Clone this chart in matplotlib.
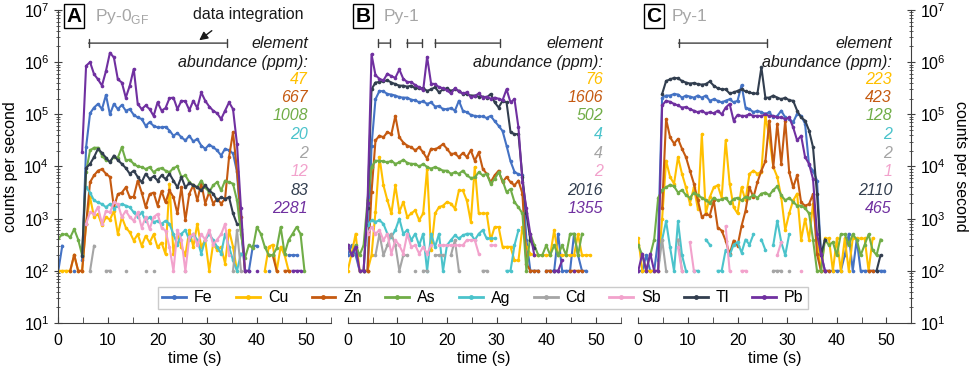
import numpy as np
import matplotlib
matplotlib.use("Agg")
import matplotlib.pyplot as plt
from matplotlib.lines import Line2D
from matplotlib.ticker import FixedLocator, NullFormatter

plt.rcParams["font.family"] = ["Liberation Sans", "DejaVu Sans"]

nan = float("nan")

time_s = [0.0, 0.8, 1.6, 2.4, 3.2, 4.0, 4.8, 5.6, 6.4, 7.2,
          8.0, 8.8, 9.6, 10.4, 11.2, 12.0, 12.8, 13.6, 14.4, 15.2,
          16.0, 16.8, 17.6, 18.4, 19.2, 20.0, 20.8, 21.6, 22.4, 23.2,
          24.0, 24.8, 25.6, 26.4, 27.2, 28.0, 28.8, 29.6, 30.4, 31.2,
          32.0, 32.8, 33.6, 34.4, 35.2, 36.0, 36.8, 37.6, 38.4, 39.2,
          40.0, 40.8, 41.6, 42.4, 43.2, 44.0, 44.8, 45.6, 46.4, 47.2,
          48.0, 48.8, 49.6]

# signals as log10(counts per second), nan = nothing plotted
# --- A: Py-0GF ---
a_fe = [2.0, 2.48, nan, nan, 2.0, nan, 2.2, 4.37, 5.02, 5.13,
        5.2, 5.1, 5.37, 5.0, 5.2, 5.1, 5.18, 5.07, 5.1, 4.99,
        4.94, 4.91, 4.78, 4.85, 4.78, 4.75, 4.75, 4.76, 4.69, 4.59,
        4.64, 4.56, 4.5, 4.59, 4.48, 4.53, 4.4, 4.34, 4.42, 4.37,
        4.31, 4.21, 4.34, 4.31, 4.25, 3.9, 2.8, 2.0, 2.0, 2.48,
        2.48, nan, nan, 2.0, nan, nan, nan, nan, 2.3, 2.3,
        2.3, nan, nan]
a_cu = [2.0, 2.0, 2.0, 2.0, 2.3, 2.0, 2.0, 2.9, 3.41, 3.03,
        3.09, 2.87, 3.03, 2.98, 3.15, 2.7, 3.03, 2.83, 2.74, 2.58,
        2.7, 2.48, 2.67, 2.54, 2.7, 2.45, 2.54, 2.32, 3.67, 2.33,
        2.71, 2.46, 2.3, 2.78, 2.46, 2.9, 2.46, 2.59, 2.0, 2.52,
        2.4, 2.46, 2.14, 2.78, 2.46, 2.0, nan, nan, nan, nan,
        nan, nan, 2.0, 2.46, 2.5, 2.0, 2.46, 2.3, 2.0, nan,
        nan, nan, nan]
a_zn = [nan, nan, nan, 2.0, 2.31, 2.0, 2.0, 2.9, 3.7, 3.83,
        3.92, 3.95, 3.86, 3.8, 3.22, 3.47, 3.5, 3.6, 3.41, 3.42,
        3.73, 3.5, 3.22, 3.47, 3.5, 3.25, 3.53, 3.31, 3.54, 3.41,
        3.1, 3.6, 2.97, 3.48, 3.64, 3.35, 3.68, 3.29, 3.51, 3.29,
        3.38, 3.29, 3.38, 4.18, 4.66, 3.92, 3.03, 2.0, nan, nan,
        nan, nan, nan, 2.3, 2.3, 2.0, nan, 2.0, 2.0, nan,
        nan, nan, nan]
a_as = [2.62, 2.7, 2.7, 2.64, 2.8, 2.6, 2.3, 3.9, 4.31, 4.36,
        4.36, 4.21, 4.12, 4.1, 4.18, 4.17, 4.37, 4.12, 4.13, 4.05,
        4.0, 3.99, 3.95, 3.99, 3.89, 3.95, 3.97, 3.92, 3.89, 3.97,
        4.0, 3.8, 3.83, 3.7, 3.64, 3.6, 3.73, 3.6, 3.51, 3.64,
        3.7, 3.54, 3.73, 3.7, 3.67, 3.35, 2.71, 2.24, 2.5, 2.43,
        2.84, 2.71, 2.46, 2.3, 2.3, 2.43, 2.84, 2.33, 2.59, 2.71,
        2.84, 2.71, 2.0]
a_ag = [nan, nan, nan, nan, nan, nan, nan, 3.6, 3.5, 3.35,
        3.31, 3.28, 3.22, 3.28, 3.19, 3.25, 3.28, 3.25, 3.22, 3.12,
        3.03, 3.12, 2.96, 3.03, 2.93, 2.96, 2.9, 2.96, 2.9, 2.7,
        2.5, 2.71, 2.78, 2.59, 2.71, 2.59, 2.33, 2.59, 2.71, 2.59,
        2.46, 2.33, 2.71, 2.46, 2.2, 2.0, 2.33, nan, nan, nan,
        nan, nan, nan, nan, nan, nan, nan, nan, nan, nan,
        nan, nan, nan]
a_cd = [nan, nan, nan, nan, nan, nan, nan, nan, 2.0, 2.48,
        nan, nan, 2.0, 2.0, nan, nan, nan, 2.0, nan, nan,
        nan, nan, 2.0, nan, 2.0, nan, nan, nan, nan, nan,
        nan, nan, 2.0, nan, nan, nan, nan, nan, nan, nan,
        nan, nan, nan, nan, 2.0, 2.78, 2.0, nan, nan, nan,
        nan, nan, nan, nan, nan, nan, nan, nan, nan, nan,
        nan, nan, nan]
a_sb = [nan, nan, nan, nan, nan, nan, nan, 2.9, 3.12, 3.09,
        3.22, 2.9, 3.15, 3.12, 3.31, 3.28, 3.03, 3.15, 3.03, 2.96,
        3.12, 2.83, 3.03, 2.8, 3.03, 3.09, 2.83, 2.77, 2.45, 2.0,
        2.78, 2.6, 2.0, 2.65, 2.7, 2.5, 2.7, 2.6, 2.78, 2.5,
        2.6, 2.7, 2.9, 2.3, nan, nan, nan, nan, nan, nan,
        nan, nan, nan, nan, nan, nan, nan, nan, nan, nan,
        nan, nan, nan]
a_tl = [nan, nan, nan, nan, nan, nan, 2.29, 3.97, 4.05, 4.18,
        4.34, 4.26, 4.17, 4.08, 4.21, 4.12, 4.05, 3.97, 3.86, 3.92,
        3.8, 3.7, 3.86, 3.76, 3.81, 3.73, 3.83, 3.76, 3.86, 3.73,
        3.6, 3.8, 3.6, 3.68, 3.64, 3.6, 3.54, 3.64, 3.54, 3.48,
        3.35, 3.41, 3.38, 3.41, 3.1, 2.9, nan, nan, nan, nan,
        nan, nan, nan, nan, nan, nan, nan, nan, nan, nan,
        nan, nan, nan]
a_pb = [nan, nan, nan, nan, nan, nan, 4.27, 5.93, 6.0, 5.77,
        5.67, 5.55, 5.83, 6.18, 6.09, 5.67, 5.61, 5.32, 5.55, 5.87,
        5.2, 5.1, 5.17, 5.1, 4.97, 5.23, 5.07, 5.12, 5.31, 5.32,
        5.1, 5.26, 5.25, 5.08, 5.26, 5.12, 5.42, 5.26, 5.15, 5.07,
        5.02, 4.91, 5.07, 5.23, 5.1, 4.43, 3.2, 2.0, 2.0, nan,
        2.0, nan, nan, nan, nan, nan, nan, nan, nan, 2.0,
        2.0, 2.0, nan]

# --- B: Py-1 ---
b_fe = [2.3, 2.49, 2.3, 2.0, 2.0, 2.0, 4.4, 5.29, 5.45, 5.44,
        5.39, 5.38, 5.36, 5.33, 5.32, 5.32, 5.28, 5.27, 5.23, 5.25,
        5.2, 5.23, 5.15, 5.16, 5.1, 5.1, 5.12, 5.07, 5.26, 5.07,
        5.04, 4.99, 4.97, 4.96, 4.96, 4.93, 4.97, 4.87, 4.78, 4.68,
        4.4, 4.1, 3.9, 3.85, 3.83, 2.6, 2.0, 2.0, 2.0, nan,
        2.0, 2.0, 2.0, 2.71, 2.0, 2.0, 2.0, 2.71, 2.3, 2.0,
        2.0, nan, nan]
b_cu = [2.0, 2.33, 2.71, 2.0, 2.0, 2.0, 2.3, 3.13, 4.18, 3.64,
        3.35, 3.1, 3.64, 3.13, 3.32, 3.03, 3.1, 3.16, 2.97, 3.1,
        3.96, 2.39, 3.1, 3.22, 3.25, 3.32, 3.29, 3.19, 3.54, 3.54,
        3.35, 2.94, 3.99, 3.1, 3.1, 3.1, 2.59, 2.84, 2.84, 2.46,
        2.46, 2.46, 2.2, 2.2, 2.84, 2.46, 2.33, 2.3, 2.3, 2.3,
        2.3, 2.3, 2.78, 2.3, 2.3, 2.3, 2.3, 2.3, 2.7, 2.3,
        2.3, 2.3, nan]
b_zn = [nan, nan, nan, nan, nan, 2.0, 3.51, 4.5, 4.59, 4.56,
        4.66, 4.62, 4.97, 4.56, 4.46, 4.4, 4.37, 4.31, 4.37, 4.27,
        4.15, 4.34, 4.33, 4.37, 4.43, 4.34, 4.24, 4.25, 4.18, 4.26,
        4.18, 4.31, 4.11, 4.27, 3.96, 3.86, 3.7, 3.83, 3.92, 3.7,
        3.8, 3.7, 3.64, 3.73, 3.48, 2.14, 2.0, 2.0, 2.0, nan,
        2.0, 2.0, nan, nan, nan, nan, 2.0, 2.0, 2.0, 2.0,
        nan, nan, nan]
b_as = [2.49, 2.3, 2.49, 2.3, 2.49, 3.35, 3.99, 4.11, 4.11, 4.1,
        4.08, 4.11, 4.05, 4.08, 4.13, 4.07, 4.05, 4.05, 4.0, 4.05,
        3.99, 3.96, 3.99, 3.96, 3.92, 3.92, 3.86, 3.89, 3.86, 3.92,
        3.83, 3.78, 3.79, 3.89, 3.83, 3.86, 3.67, 3.76, 3.89, 3.73,
        3.51, 3.57, 3.32, 3.22, 3.1, 2.0, 2.71, 2.49, 2.3, 2.3,
        2.49, 2.3, 2.49, 2.3, 2.49, 2.3, 2.71, 2.71, 2.3, 2.71,
        nan, nan, nan]
b_ag = [nan, nan, nan, nan, nan, 2.87, 2.97, 2.94, 2.97, 2.9,
        2.71, 2.65, 2.78, 3.0, 2.71, 2.78, 2.59, 2.71, 2.49, 2.71,
        2.0, 2.71, 2.46, 2.71, 2.0, 2.49, 2.59, 2.68, 2.62, 2.68,
        2.71, 2.71, 2.59, 2.71, 2.78, 2.62, 2.62, 2.62, nan, nan,
        2.0, 2.0, 2.49, 2.78, nan, nan, nan, nan, nan, nan,
        nan, nan, nan, nan, nan, nan, nan, nan, nan, nan,
        nan, nan, nan]
b_cd = [nan, nan, nan, nan, nan, nan, nan, 2.3, 2.71, 2.3,
        2.49, 2.71, 2.49, 2.0, 2.3, 2.3, nan, 2.0, nan, 2.0,
        2.0, nan, 2.3, 2.3, 2.3, nan, 2.3, 2.59, 2.0, nan,
        nan, nan, nan, nan, 2.0, 2.0, nan, nan, nan, nan,
        nan, nan, nan, nan, nan, nan, nan, nan, nan, nan,
        nan, nan, nan, nan, nan, nan, nan, nan, nan, nan,
        nan, nan, nan]
b_sb = [nan, nan, nan, nan, nan, 2.71, 2.84, 2.71, 2.78, 2.59,
        2.71, 2.33, 2.59, 2.49, 2.33, 2.71, 2.46, 2.49, 2.33, 2.46,
        2.33, 2.49, nan, 2.49, 2.49, 2.49, 2.49, 2.49, 2.49, 2.49,
        2.59, 2.59, 2.59, 2.33, nan, nan, 2.49, 2.49, nan, nan,
        nan, nan, nan, nan, nan, nan, nan, nan, nan, nan,
        nan, nan, nan, nan, nan, nan, nan, nan, nan, nan,
        nan, nan, nan]
b_tl = [nan, nan, nan, nan, 2.0, 3.2, 5.48, 5.61, 5.62, 5.64,
        5.65, 5.61, 5.58, 5.55, 5.55, 5.53, 5.55, 5.5, 5.5, 5.5,
        5.45, 5.48, 5.52, 5.42, 5.48, 5.5, 5.45, 5.48, 5.45, 5.39,
        5.39, 5.36, 5.36, 5.34, 5.34, 5.32, 5.39, 5.23, 5.13, 5.26,
        5.23, 4.66, 4.62, 4.62, 3.8, 3.1, 2.59, 2.43, nan, nan,
        nan, nan, 2.0, 2.0, nan, nan, nan, nan, nan, nan,
        nan, nan, nan]
b_pb = [2.49, 2.3, 2.46, 2.0, 2.0, 3.3, 6.15, 5.75, 5.68, 5.65,
        5.78, 5.73, 5.7, 5.86, 5.68, 5.62, 5.62, 5.56, 5.52, 5.46,
        6.1, 5.59, 5.58, 5.52, 5.5, 5.46, 5.4, 5.5, 5.44, 5.4,
        5.42, 5.33, 5.35, 5.4, 5.32, 5.34, 5.3, 5.32, 5.3, 5.27,
        5.48, 5.23, 5.29, 4.75, 3.7, 3.2, 2.7, 2.3, nan, nan,
        nan, nan, 2.0, 2.0, 2.2, nan, nan, 2.0, nan, nan,
        nan, nan, nan]

# --- C: Py-1 ---
c_fe = [2.0, 2.0, 2.3, 2.0, 2.0, 2.6, 5.32, 5.36, 5.36, 5.39,
        5.38, 5.32, 5.36, 5.34, 5.32, 5.36, 5.32, 5.36, 5.26, 5.29,
        5.26, 5.23, 5.26, 5.29, 5.23, 5.26, 5.56, 5.13, 5.1, 5.04,
        5.07, 5.04, 5.01, 5.04, 4.94, 4.97, 5.07, 4.94, 4.91, 4.85,
        5.01, 4.97, 4.82, 4.02, 3.92, 3.73, 2.33, 2.0, 2.0, 2.0,
        2.0, 2.0, 2.3, 2.71, 2.0, 2.6, 2.0, 2.0, 2.0, 2.0,
        2.0, 2.0, 2.0]
c_cu = [2.62, 2.0, 2.0, 2.0, 2.0, 2.0, 3.0, 4.11, 3.8, 3.67,
        4.18, 3.86, 3.6, 3.29, 3.6, 3.19, 4.62, 3.1, 3.41, 3.6,
        3.64, 3.4, 4.5, 3.67, 3.22, 3.1, 3.6, 3.35, 3.86, 3.92,
        3.86, 3.9, 4.97, 4.56, 3.99, 3.8, 3.41, 2.78, 3.1, 3.35,
        3.48, 2.59, 3.0, 2.6, 3.29, 2.59, 2.0, 2.62, 2.62, 2.0,
        2.62, 2.0, 2.62, 2.0, 2.62, 2.62, 2.62, 2.62, 2.0, 2.62,
        nan, nan, nan]
c_zn = [nan, nan, nan, nan, nan, nan, 3.2, 4.91, 4.56, 4.44,
        4.53, 4.34, 4.18, 3.92, 3.67, 3.35, 3.03, 3.09, 3.06, 3.35,
        2.83, 2.77, 2.58, 2.32, 2.58, 2.48, 2.86, 3.15, 3.6, 3.41,
        3.7, 3.92, 4.1, 4.88, 3.99, 4.82, 4.05, 4.88, 3.89, 3.6,
        3.83, 3.31, 3.25, 3.28, 3.47, 2.32, 2.0, 2.0, 2.0, nan,
        nan, nan, nan, nan, nan, nan, nan, nan, 2.0, 2.0,
        nan, nan, nan]
c_as = [2.49, 2.3, 2.0, 2.3, 2.6, 3.4, 3.55, 3.6, 3.65, 3.62,
        3.5, 3.55, 3.45, 3.4, 3.5, 3.45, 3.4, 3.35, 3.3, 3.4,
        3.35, 3.37, 3.4, 3.3, 3.38, 3.4, 3.35, 3.42, 3.4, 3.45,
        3.4, 3.48, 3.5, 3.45, 3.55, 3.62, 3.45, 3.35, 3.4, 3.32,
        3.25, 3.25, 3.2, 3.1, 2.6, 2.0, 2.0, 2.6, 2.49, 2.55,
        2.3, 2.7, 2.7, 2.5, 2.7, 2.6, 2.3, 2.5, 2.7, 2.4,
        2.3, 2.6, nan]
c_ag = [nan, nan, nan, nan, nan, 2.2, 2.6, 2.95, 2.45, 2.0,
        2.95, 2.3, 2.0, nan, 2.0, 2.0, nan, 2.6, 2.5, nan,
        2.0, 2.0, 2.4, 2.3, 2.5, 2.55, 2.35, 2.6, 2.5, 2.7,
        nan, 2.6, 2.4, nan, 2.5, 2.96, 2.55, 2.3, 2.7, nan,
        nan, nan, nan, nan, nan, nan, nan, nan, nan, nan,
        nan, nan, nan, nan, nan, nan, nan, nan, nan, nan,
        nan, nan, nan]
c_cd = [nan, nan, nan, nan, nan, 2.0, 2.6, 2.0, nan, nan,
        2.6, 2.0, nan, nan, nan, nan, nan, nan, nan, nan,
        nan, nan, nan, nan, nan, nan, nan, nan, nan, nan,
        nan, nan, nan, nan, 2.0, 2.0, 2.0, nan, 2.0, nan,
        nan, nan, nan, nan, nan, nan, nan, nan, nan, nan,
        nan, nan, nan, nan, nan, nan, nan, nan, nan, nan,
        nan, nan, nan]
c_sb = [nan, nan, nan, nan, nan, nan, nan, nan, nan, nan,
        2.45, 2.0, nan, 2.55, 2.0, nan, nan, nan, nan, nan,
        nan, nan, 2.85, 2.0, nan, nan, 2.0, 2.0, nan, nan,
        nan, nan, nan, nan, nan, 2.3, 2.55, nan, nan, nan,
        nan, 2.0, nan, nan, nan, nan, nan, nan, nan, nan,
        nan, nan, nan, nan, nan, nan, nan, nan, nan, nan,
        nan, nan, nan]
c_tl = [nan, nan, nan, nan, nan, nan, 5.39, 5.64, 5.67, 5.7,
        5.69, 5.64, 5.61, 5.59, 5.6, 5.58, 5.57, 5.58, 5.63, 5.55,
        5.5, 5.48, 5.48, 5.4, 5.42, 5.45, 5.48, 5.44, 5.42, 5.4,
        5.4, 5.9, 5.32, 5.32, 5.36, 5.32, 5.29, 5.32, 5.27, 5.26,
        5.07, 4.94, 4.88, 4.69, 4.37, 3.48, 2.3, 2.6, nan, nan,
        nan, nan, nan, nan, nan, nan, nan, nan, nan, nan,
        2.0, 2.3, nan]
c_pb = [2.0, 2.33, 2.0, 2.33, 2.0, 2.0, 5.17, 5.26, 5.24, 5.2,
        5.17, 5.13, 5.14, 5.1, 5.07, 5.04, 5.07, 5.02, 5.04, 5.02,
        5.07, 5.0, 5.13, 5.2, 4.88, 4.99, 4.97, 4.97, 5.0, 4.97,
        4.97, 4.97, 5.0, 4.97, 4.97, 4.94, 4.94, 4.91, 4.94, 4.75,
        4.5, 4.59, 4.18, 4.05, 3.76, 2.71, 2.33, 2.0, nan, nan,
        nan, nan, nan, nan, nan, nan, nan, nan, nan, nan,
        nan, nan, nan]

elements = ["Fe", "Cu", "Zn", "As", "Ag", "Cd", "Sb", "Tl", "Pb"]
colors = ["#4472C4", "#FFC000", "#C55A11", "#70AD47", "#4BC3CB",
          "#A5A5A5", "#F2A2CC", "#323E4F", "#7030A0"]

# abundances listed for Cu, Zn, As, Ag, Cd, Sb, Tl, Pb
ppm_a = ["47", "667", "1008", "20", "2", "12", "83", "2281"]
ppm_b = ["76", "1606", "502", "4", "4", "2", "2016", "1355"]
ppm_c = ["223", "423", "128", "2", "2", "1", "2110", "465"]

# integration windows (s)
win_a = [(6.1, 33.9)]
win_b = [(6.2, 8.5), (11.9, 15.0), (17.6, 30.6)]
win_c = [(8.1, 26.0)]

panels = [
    ("A", "Py-0$_{\\mathregular{GF}}$",
     [a_fe, a_cu, a_zn, a_as, a_ag, a_cd, a_sb, a_tl, a_pb], ppm_a, win_a),
    ("B", "Py-1",
     [b_fe, b_cu, b_zn, b_as, b_ag, b_cd, b_sb, b_tl, b_pb], ppm_b, win_b),
    ("C", "Py-1",
     [c_fe, c_cu, c_zn, c_as, c_ag, c_cd, c_sb, c_tl, c_pb], ppm_c, win_c),
]

W, H = 969, 371
fig = plt.figure(figsize=(W / 100, H / 100), dpi=100)


def fx(x):
    return x / W


def fy(y):
    return 1 - y / H


lefts = [58.3, 347.7, 638.3]
label_x = [74, 363, 654]
name_x = [95, 384, 672]
text_right = [308, 603, 892]
ax_w = 273.0
grey_txt = "#A6A6A6"

major_y = [10.0 ** e for e in range(1, 8)]
minor_y = [m * 10.0 ** e for e in range(1, 7) for m in range(2, 10)]

for p, (letter, name, series, ppm, wins) in enumerate(panels):
    ax = fig.add_axes([fx(lefts[p]), fy(323), ax_w / W, 313 / H])
    ax.set_yscale("log")
    ax.set_xlim(0, 55)
    ax.set_ylim(10, 1e7)
    for vals, col in zip(series, colors):
        ax.plot(time_s, 10 ** np.asarray(vals, dtype=float), color=col,
                lw=1.5, marker="o", ms=2.6, mew=0)

    for s in ["top", "left", "right"]:
        ax.spines[s].set_visible(False)
    ax.spines["bottom"].set_color("#404040")
    ax.set_xticks(range(0, 51, 10))
    ax.set_xticks(range(5, 56, 10), minor=True)
    ax.tick_params(axis="x", which="both", direction="in", length=4,
                   color="#404040", labelsize=11.5, pad=7)
    ax.set_xlabel("time (s)", fontsize=11.5, labelpad=2)

    ax.yaxis.set_major_locator(FixedLocator(major_y))
    ax.yaxis.set_minor_locator(FixedLocator(minor_y))
    ax.yaxis.set_minor_formatter(NullFormatter())
    if p == 0:
        ax.spines["left"].set_visible(True)
        ax.spines["left"].set_color("#404040")
        ax.tick_params(axis="y", which="major", direction="inout", length=6,
                       labelsize=11.5, color="#404040")
        ax.tick_params(axis="y", which="minor", direction="inout", length=3,
                       color="#404040")
        ax.set_ylabel("counts per second", fontsize=11.5, labelpad=4)
    elif p == 2:
        ax.spines["right"].set_visible(True)
        ax.spines["right"].set_color("#404040")
        ax.yaxis.tick_right()
        ax.yaxis.set_label_position("right")
        ax.tick_params(axis="y", which="major", direction="inout", length=6,
                       labelsize=11.5, color="#404040")
        ax.tick_params(axis="y", which="minor", direction="inout", length=3,
                       color="#404040")
        ax.set_ylabel("counts per second", fontsize=11.5, rotation=270,
                      labelpad=16)
    else:
        ax.tick_params(axis="y", which="both", left=False, labelleft=False)

    # integration brackets
    ybr = 10 ** (7 - (43 - 10) / 52)
    for t0, t1 in wins:
        ax.annotate("", xy=(t0, ybr), xytext=(t1, ybr),
                    arrowprops=dict(arrowstyle="|-|,widthA=0.3,widthB=0.3",
                                    lw=1, color="#404040",
                                    shrinkA=0, shrinkB=0))

    # panel label
    fig.text(fx(label_x[p]), fy(16), letter, fontsize=15, fontweight="bold",
             ha="center", va="center",
             bbox=dict(boxstyle="square,pad=0.12", fc="white", ec="black", lw=1))
    fig.text(fx(name_x[p]), fy(17), name, fontsize=12.5, color=grey_txt,
             ha="left", va="center")

    # abundance block
    fig.text(fx(text_right[p]), fy(43), "element", fontsize=11.5,
             style="italic", ha="right", va="center", color="#1a1a1a")
    fig.text(fx(text_right[p]), fy(62), "abundance (ppm):", fontsize=11.5,
             style="italic", ha="right", va="center", color="#1a1a1a")
    for k, (val, col) in enumerate(zip(ppm, colors[1:])):
        fig.text(fx(text_right[p]), fy(79 + 18.5 * k), val, fontsize=11.5,
                 style="italic", ha="right", va="center", color=col)

# "data integration" callout on panel A
fig.text(fx(248), fy(14), "data integration", fontsize=11.5, ha="center",
         va="center", color="#1a1a1a")
fig.add_artist(matplotlib.patches.FancyArrowPatch(
    (fx(214), fy(29)), (fx(197), fy(42)), transform=fig.transFigure,
    arrowstyle="-|>,head_length=5,head_width=2.5", lw=1, color="#1a1a1a"))

handles = [Line2D([], [], color=c, lw=2, marker="o", ms=3.5, mew=0)
           for c in colors]
leg = fig.legend(handles, elements, loc="center",
                 bbox_to_anchor=(fx(483), fy(298)), ncol=9, fontsize=11.5,
                 frameon=True, fancybox=False, edgecolor="#BFBFBF",
                 handlelength=1.5, handletextpad=0.5, columnspacing=1.45,
                 borderpad=0.25, borderaxespad=0)
leg.get_frame().set_linewidth(1.0)

fig.savefig("out.png", dpi=100)
